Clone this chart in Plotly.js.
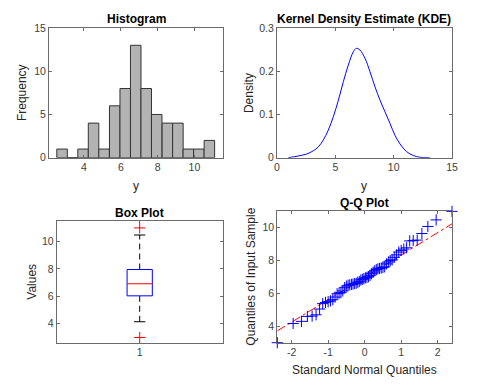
<!DOCTYPE html>
<html>
<head>
<meta charset="utf-8">
<script src="https://cdn.plot.ly/plotly-3.0.1.min.js"></script>
<style>
  html, body { margin: 0; padding: 0; background: #fff; }
  #chart { width: 480px; height: 392px; }
</style>
</head>
<body>
<div id="chart"></div>
<script>
// Histogram: bin centres and counts
const binCenters = [2.81, 3.38, 3.95, 4.52, 5.09, 5.67, 6.24, 6.81, 7.38, 7.95, 8.53, 9.10, 9.67, 10.24, 10.81];
const binCounts = [1, 0, 1, 4, 1, 6, 8, 13, 8, 5, 4, 4, 1, 1, 2];

// Kernel density estimate curve
const kdeX = [0.97, 1.83, 2.54, 3.11, 3.54, 3.97, 4.4, 4.83, 5.26, 5.69, 6.11, 6.54, 6.8, 7.11,
  7.54, 7.97, 8.4, 8.83, 9.26, 9.69, 10.11, 10.54, 11.11, 11.69, 12.26, 13.1];
const kdeY = [0, 0.004, 0.0085, 0.016, 0.025, 0.041, 0.064, 0.095, 0.133, 0.176, 0.214, 0.245, 0.253, 0.249,
  0.23, 0.199, 0.164, 0.133, 0.106, 0.079, 0.052, 0.032, 0.014, 0.005, 0.001, 0];

// Box plot summary
const boxQuartiles = [6.04, 6.92, 7.96];   // q1, median, q3
const boxWhiskers = [4.15, 10.48];
const boxOutliers = [3.0, 11.0];

// Q-Q plot: standard normal quantiles (n = 60) and sorted sample
const qqTheory = [-2.394, -1.960, -1.732, -1.569, -1.440, -1.331, -1.235, -1.150, -1.073, -1.001,
  -0.935, -0.872, -0.812, -0.755, -0.701, -0.649, -0.598, -0.549, -0.501, -0.454,
  -0.408, -0.363, -0.319, -0.275, -0.232, -0.189, -0.147, -0.105, -0.063, -0.021,
  0.021, 0.063, 0.105, 0.147, 0.189, 0.232, 0.275, 0.319, 0.363, 0.408,
  0.454, 0.501, 0.549, 0.598, 0.649, 0.701, 0.755, 0.812, 0.872, 0.935,
  1.001, 1.073, 1.150, 1.235, 1.331, 1.440, 1.569, 1.732, 1.960, 2.394];
const qqSample = [3.0, 4.17, 4.3, 4.6, 4.62, 4.7, 5.05, 5.38, 5.45, 5.5,
  5.55, 5.62, 5.78, 5.98, 6.02, 6.05, 6.15, 6.35, 6.45, 6.5,
  6.52, 6.55, 6.57, 6.6, 6.62, 6.68, 6.72, 6.82, 6.86, 6.9,
  6.95, 6.98, 7.02, 7.1, 7.2, 7.3, 7.38, 7.45, 7.5, 7.52,
  7.55, 7.58, 7.62, 7.8, 7.92, 8.0, 8.05, 8.2, 8.35, 8.52,
  8.62, 8.7, 8.78, 9.2, 9.22, 9.25, 9.65, 10.08, 10.48, 11.0];
const refLineX = [-2.394, 2.394];
const refLineY = [3.72, 10.24];
const qqTicks = [-2, -1, 0, 1, 2];
const qqTickText = ["-2", "-1", "0", "1", "2"];

const W = 480, H = 392;
const fx = px => px / W;
const fy = py => 1 - py / H;

const axisColor = "#262626";
const baseAxis = {
  showline: true, mirror: "ticks", linecolor: "#6b6b6b", linewidth: 1,
  ticks: "inside", ticklen: 3, tickcolor: "#6b6b6b",
  showgrid: false, zeroline: false, fixedrange: true,
  tickfont: { size: 10.5, color: "#404040" }
};
const ax = extra => Object.assign({}, baseAxis, extra);

const boxX = 1, boxHalf = 0.076, capHalf = 0.034;

const traces = [
  // histogram
  {
    type: "bar", x: binCenters, y: binCounts, width: 0.572,
    marker: { color: "#b3b3b3", line: { color: "#333333", width: 1 } },
    xaxis: "x", yaxis: "y", hoverinfo: "skip"
  },
  // KDE
  {
    type: "scatter", mode: "lines", x: kdeX, y: kdeY,
    line: { color: "#0000ff", width: 1, shape: "spline", smoothing: 1 },
    xaxis: "x2", yaxis: "y2"
  },
  // box plot whiskers (dashed)
  {
    type: "scatter", mode: "lines",
    x: [boxX, boxX, null, boxX, boxX],
    y: [boxQuartiles[2], boxWhiskers[1], null, boxQuartiles[0], boxWhiskers[0]],
    line: { color: "#000000", width: 1, dash: "6px,4px" },
    xaxis: "x3", yaxis: "y3"
  },
  // whisker caps
  {
    type: "scatter", mode: "lines",
    x: [boxX - capHalf, boxX + capHalf, null, boxX - capHalf, boxX + capHalf],
    y: [boxWhiskers[1], boxWhiskers[1], null, boxWhiskers[0], boxWhiskers[0]],
    line: { color: "#000000", width: 1 },
    xaxis: "x3", yaxis: "y3"
  },
  // box
  {
    type: "scatter", mode: "lines",
    x: [boxX - boxHalf, boxX + boxHalf, boxX + boxHalf, boxX - boxHalf, boxX - boxHalf],
    y: [boxQuartiles[0], boxQuartiles[0], boxQuartiles[2], boxQuartiles[2], boxQuartiles[0]],
    fill: "toself", fillcolor: "#ffffff",
    line: { color: "#0000ff", width: 1 },
    xaxis: "x3", yaxis: "y3"
  },
  // median
  {
    type: "scatter", mode: "lines",
    x: [boxX - boxHalf, boxX + boxHalf],
    y: [boxQuartiles[1], boxQuartiles[1]],
    line: { color: "#ff0000", width: 1 },
    xaxis: "x3", yaxis: "y3"
  },
  // outliers
  {
    type: "scatter", mode: "markers",
    x: boxOutliers.map(() => boxX), y: boxOutliers,
    marker: { symbol: "cross-thin", size: 8, color: "#ff0000", line: { color: "#ff0000", width: 1 } },
    cliponaxis: false, xaxis: "x3", yaxis: "y3"
  },
  // Q-Q reference line
  {
    type: "scatter", mode: "lines", x: refLineX, y: refLineY,
    line: { color: "#ff0000", width: 1, dash: "dashdot" },
    xaxis: "x4", yaxis: "y4"
  },
  // Q-Q points
  {
    type: "scatter", mode: "markers", x: qqTheory, y: qqSample,
    marker: { symbol: "cross-thin", size: 8, color: "#0000ff", line: { color: "#0000ff", width: 1 } },
    cliponaxis: false, xaxis: "x4", yaxis: "y4"
  }
];

const font = { family: "Liberation Sans, Arial, sans-serif", size: 12, color: axisColor };
const label = (text, px, py, extra) => Object.assign({
  text: text, xref: "paper", yref: "paper", x: fx(px), y: fy(py),
  xanchor: "center", yanchor: "middle", showarrow: false,
  font: { size: 12, color: axisColor }
}, extra || {});
const title = (text, px, py) => label(text, px, py, {
  font: { size: 12, color: "#000000", weight: "bold" }
});

const layout = {
  width: W, height: H,
  margin: { l: 0, r: 0, t: 0, b: 0 },
  paper_bgcolor: "#ffffff", plot_bgcolor: "#ffffff",
  font: font, showlegend: false, hovermode: false,
  xaxis: ax({ domain: [fx(49), fx(223)], range: [2.1, 11.55], tickvals: [4, 6, 8, 10], anchor: "y" }),
  yaxis: ax({ domain: [fy(157.7), fy(28)], range: [0, 15], tickvals: [0, 5, 10, 15], anchor: "x" }),
  xaxis2: ax({ domain: [fx(277), fx(452)], range: [0, 15], tickvals: [0, 5, 10, 15], anchor: "y2" }),
  yaxis2: ax({ domain: [fy(157.7), fy(28)], range: [0, 0.3], tickvals: [0, 0.1, 0.2, 0.3], anchor: "x2" }),
  xaxis3: ax({ domain: [fx(56.7), fx(222.7)], range: [0.5, 1.5], tickvals: [1], anchor: "y3" }),
  yaxis3: ax({ domain: [fy(342.7), fy(221.3)], range: [2.62, 11.48], tickvals: [4, 6, 8, 10], anchor: "x3" }),
  xaxis4: ax({ domain: [fx(277.3), fx(452)], range: [-2.394, 2.394], tickvals: qqTicks, ticktext: qqTickText, anchor: "y4" }),
  yaxis4: ax({ domain: [fy(342.7), fy(210.7)], range: [3.0, 11.04], tickvals: [4, 6, 8, 10], anchor: "x4" }),
  annotations: [
    title("Histogram", 136, 18.5),
    title("Kernel Density Estimate (KDE)", 364, 18.5),
    title("Box Plot", 139.7, 212.7),
    title("Q-Q Plot", 364.5, 202.7),
    label("y", 136, 186),
    label("Frequency", 22.3, 92.8, { textangle: -90 }),
    label("y", 364, 186),
    label("Density", 248.3, 92.8, { textangle: -90 }),
    label("Values", 31.7, 282, { textangle: -90 }),
    label("Standard Normal Quantiles", 364.5, 370),
    label("Quantiles of Input Sample", 251, 276.7, { textangle: -90 })
  ]
};

Plotly.newPlot("chart", traces, layout, { displayModeBar: false, staticPlot: true });
</script>
</body>
</html>
